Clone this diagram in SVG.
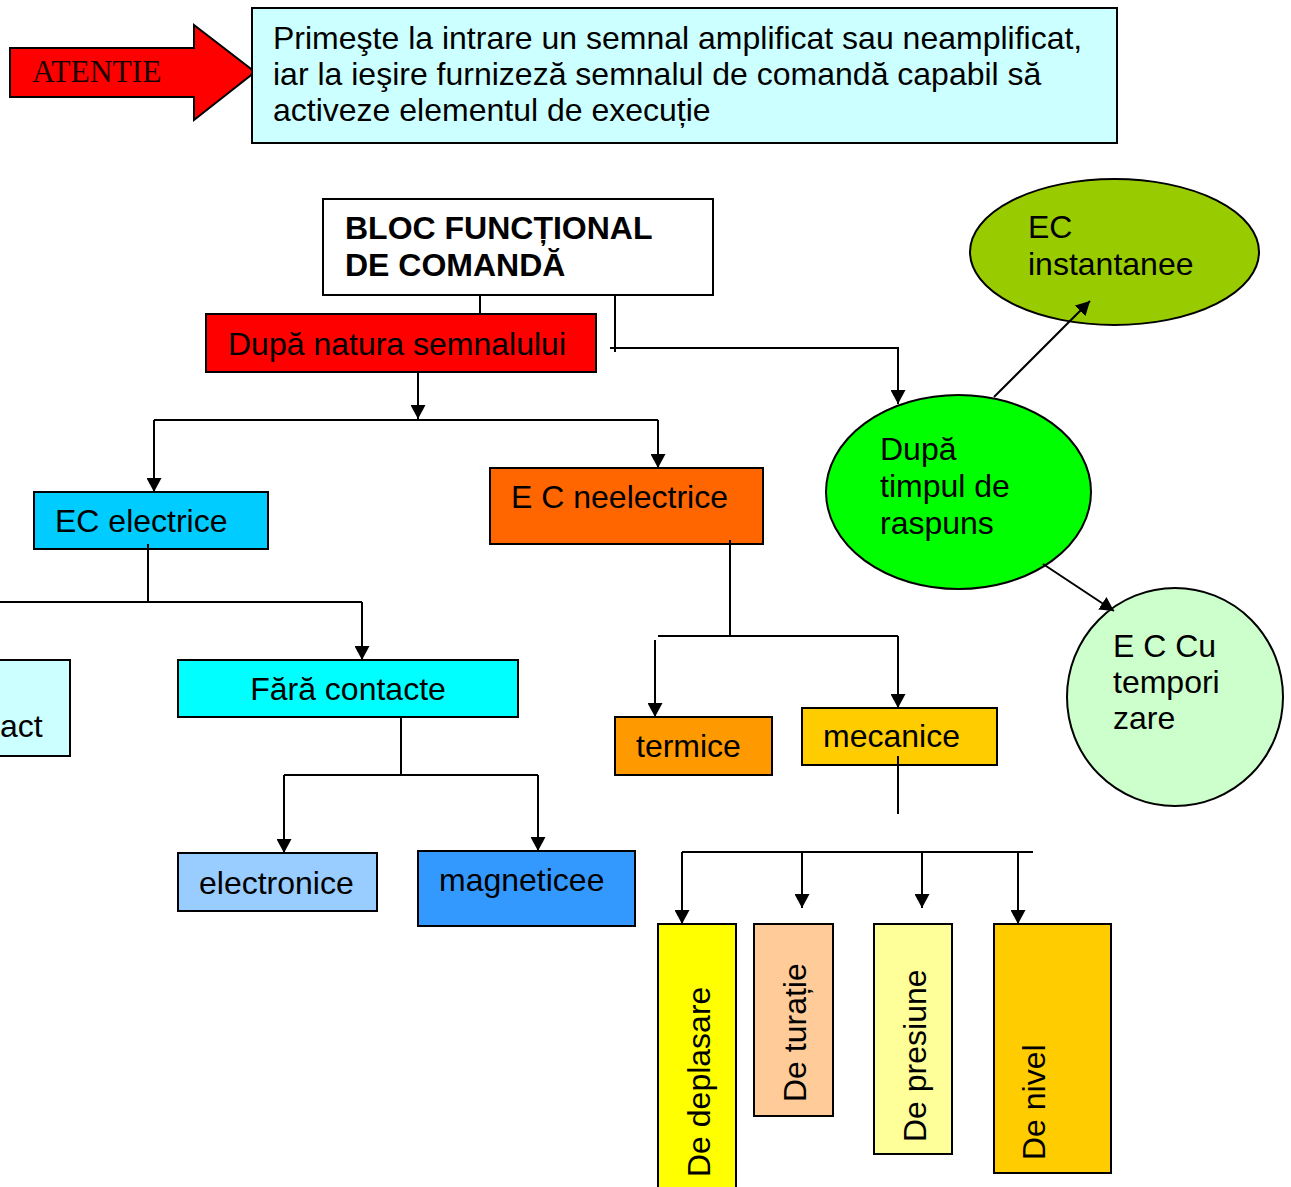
<svg xmlns="http://www.w3.org/2000/svg" width="1291" height="1187" viewBox="0 0 1291 1187">
  <style>
    .box { stroke: #000; stroke-width: 2; }
    .t { font-family: "Liberation Sans", Arial, sans-serif; font-size: 32px; fill: #000; }
    .tb { font-family: "Liberation Sans", Arial, sans-serif; font-size: 32px; font-weight: bold; fill: #000; }
    .wire { fill: none; stroke: #000; stroke-width: 2; }
    .arr { marker-end: url(#head); }
  </style>
  <defs>
    <marker id="head" viewBox="0 0 14 15" refX="14" refY="7.5" markerWidth="14" markerHeight="15" markerUnits="userSpaceOnUse" orient="auto">
      <path d="M0,0 L14,7.5 L0,15 z" fill="#000"/>
    </marker>
  </defs>

  <rect width="1291" height="1187" fill="#fff"/>

  <!-- warning arrow -->
  <g id="atentie">
    <path class="box" d="M10,48 L194,48 L194,25 L255,72 L194,120 L194,97 L10,97 z" fill="#ff0000"/>
    <text x="32" y="82" font-family="'Liberation Serif', 'Times New Roman', serif" font-size="31.5" fill="#1a0000">ATENTIE</text>
  </g>

  <!-- description box -->
  <g id="descriere">
    <rect class="box" x="252" y="8" width="865" height="135" fill="#ccffff"/>
    <text class="t" x="273" y="49">Primeşte la intrare un semnal amplificat sau neamplificat,</text>
    <text class="t" x="273" y="85">iar la ieşire furnizeză semnalul de comandă capabil să</text>
    <text class="t" x="273" y="121">activeze elementul de execuție</text>
  </g>

  <g id="bloc">
    <rect class="box" x="323" y="199" width="390" height="96" fill="#fff"/>
    <text class="tb" x="345" y="239">BLOC FUNCȚIONAL</text>
    <text class="tb" x="345" y="276">DE COMANDĂ</text>
  </g>

  <g id="natura">
    <rect class="box" x="206" y="314" width="390" height="58" fill="#ff0000"/>
    <text class="t" x="228" y="355">După natura semnalului</text>
  </g>

  <g id="electrice">
    <rect class="box" x="34" y="492" width="234" height="57" fill="#00ccff"/>
    <text class="t" x="55" y="532">EC electrice</text>
  </g>

  <g id="neelectrice">
    <rect class="box" x="490" y="468" width="273" height="76" fill="#ff6600"/>
    <text class="t" x="511" y="508">E C neelectrice</text>
  </g>

  <g id="contact">
    <rect class="box" x="-10" y="660" width="80" height="96" fill="#ccffff"/>
    <text class="t" x="0" y="737">act</text>
  </g>

  <g id="fara-contacte">
    <rect class="box" x="178" y="660" width="340" height="57" fill="#00ffff"/>
    <text class="t" x="348" y="700" text-anchor="middle">Fără contacte</text>
  </g>

  <g id="electronice">
    <rect class="box" x="178" y="853" width="199" height="58" fill="#99ccff"/>
    <text class="t" x="199" y="894">electronice</text>
  </g>

  <g id="magnetice">
    <rect class="box" x="418" y="851" width="217" height="75" fill="#3399ff"/>
    <text class="t" x="439" y="891">magneticee</text>
  </g>

  <g id="termice">
    <rect class="box" x="615" y="717" width="157" height="58" fill="#ff9900"/>
    <text class="t" x="636" y="757">termice</text>
  </g>

  <g id="mecanice">
    <rect class="box" x="802" y="708" width="195" height="57" fill="#ffcc00"/>
    <text class="t" x="823" y="747">mecanice</text>
  </g>

  <g id="deplasare">
    <rect class="box" x="658" y="924" width="78" height="275" fill="#ffff00"/>
    <text class="t" transform="translate(710,1177) rotate(-90)">De deplasare</text>
  </g>

  <g id="turatie">
    <rect class="box" x="754" y="924" width="79" height="192" fill="#ffcc99"/>
    <text class="t" transform="translate(806,1102) rotate(-90)">De turație</text>
  </g>

  <g id="presiune">
    <rect class="box" x="874" y="924" width="78" height="230" fill="#ffff99"/>
    <text class="t" transform="translate(926,1142) rotate(-90)">De presiune</text>
  </g>

  <g id="nivel">
    <rect class="box" x="994" y="924" width="117" height="249" fill="#ffcc00"/>
    <text class="t" transform="translate(1045,1160) rotate(-90)">De nivel</text>
  </g>

  <g id="timp">
    <ellipse class="box" cx="958.5" cy="492" rx="132.5" ry="97" fill="#00ff00"/>
    <text class="t" x="880" y="460">După</text>
    <text class="t" x="880" y="497">timpul de</text>
    <text class="t" x="880" y="534">raspuns</text>
  </g>

  <g id="instantanee">
    <ellipse class="box" cx="1114.5" cy="252" rx="144.5" ry="73" fill="#99cc00"/>
    <text class="t" x="1028" y="238">EC</text>
    <text class="t" x="1028" y="275">instantanee</text>
  </g>

  <g id="temporizare">
    <ellipse class="box" cx="1175" cy="697" rx="108" ry="109" fill="#ccffcc"/>
    <text class="t" x="1113" y="657">E C Cu</text>
    <text class="t" x="1113" y="693">tempori</text>
    <text class="t" x="1113" y="729">zare</text>
  </g>

  <!-- connectors, drawn over the shapes -->
  <g id="connectors">
    <path class="wire" d="M480,295 L480,314"/>
    <path class="wire" d="M615,295 L615,352"/>
    <path class="wire arr" d="M610,348 L898,348 L898,404"/>
    <path class="wire arr" d="M418,372 L418,419"/>
    <path class="wire" d="M154,420 L658,420"/>
    <path class="wire arr" d="M154,420 L154,492"/>
    <path class="wire arr" d="M658,420 L658,468"/>
    <path class="wire" d="M148,544 L148,602"/>
    <path class="wire" d="M0,602 L362,602"/>
    <path class="wire arr" d="M362,602 L362,660"/>
    <path class="wire" d="M401,717 L401,775"/>
    <path class="wire" d="M284,775 L538,775"/>
    <path class="wire arr" d="M284,775 L284,853"/>
    <path class="wire arr" d="M538,775 L538,851"/>
    <path class="wire" d="M730,540 L730,636"/>
    <path class="wire" d="M658,636 L898,636"/>
    <path class="wire arr" d="M898,636 L898,708"/>
    <path class="wire arr" d="M655,640 L655,717"/>
    <path class="wire" d="M898,756 L898,814"/>
    <path class="wire" d="M682,852 L1033,852"/>
    <path class="wire arr" d="M682,852 L682,924"/>
    <path class="wire arr" d="M802,852 L802,908"/>
    <path class="wire arr" d="M922,852 L922,908"/>
    <path class="wire arr" d="M1018,852 L1018,924"/>
    <path class="wire arr" d="M994,397 L1090,301"/>
    <path class="wire arr" d="M1043,564 L1114,611"/>
  </g>
</svg>
